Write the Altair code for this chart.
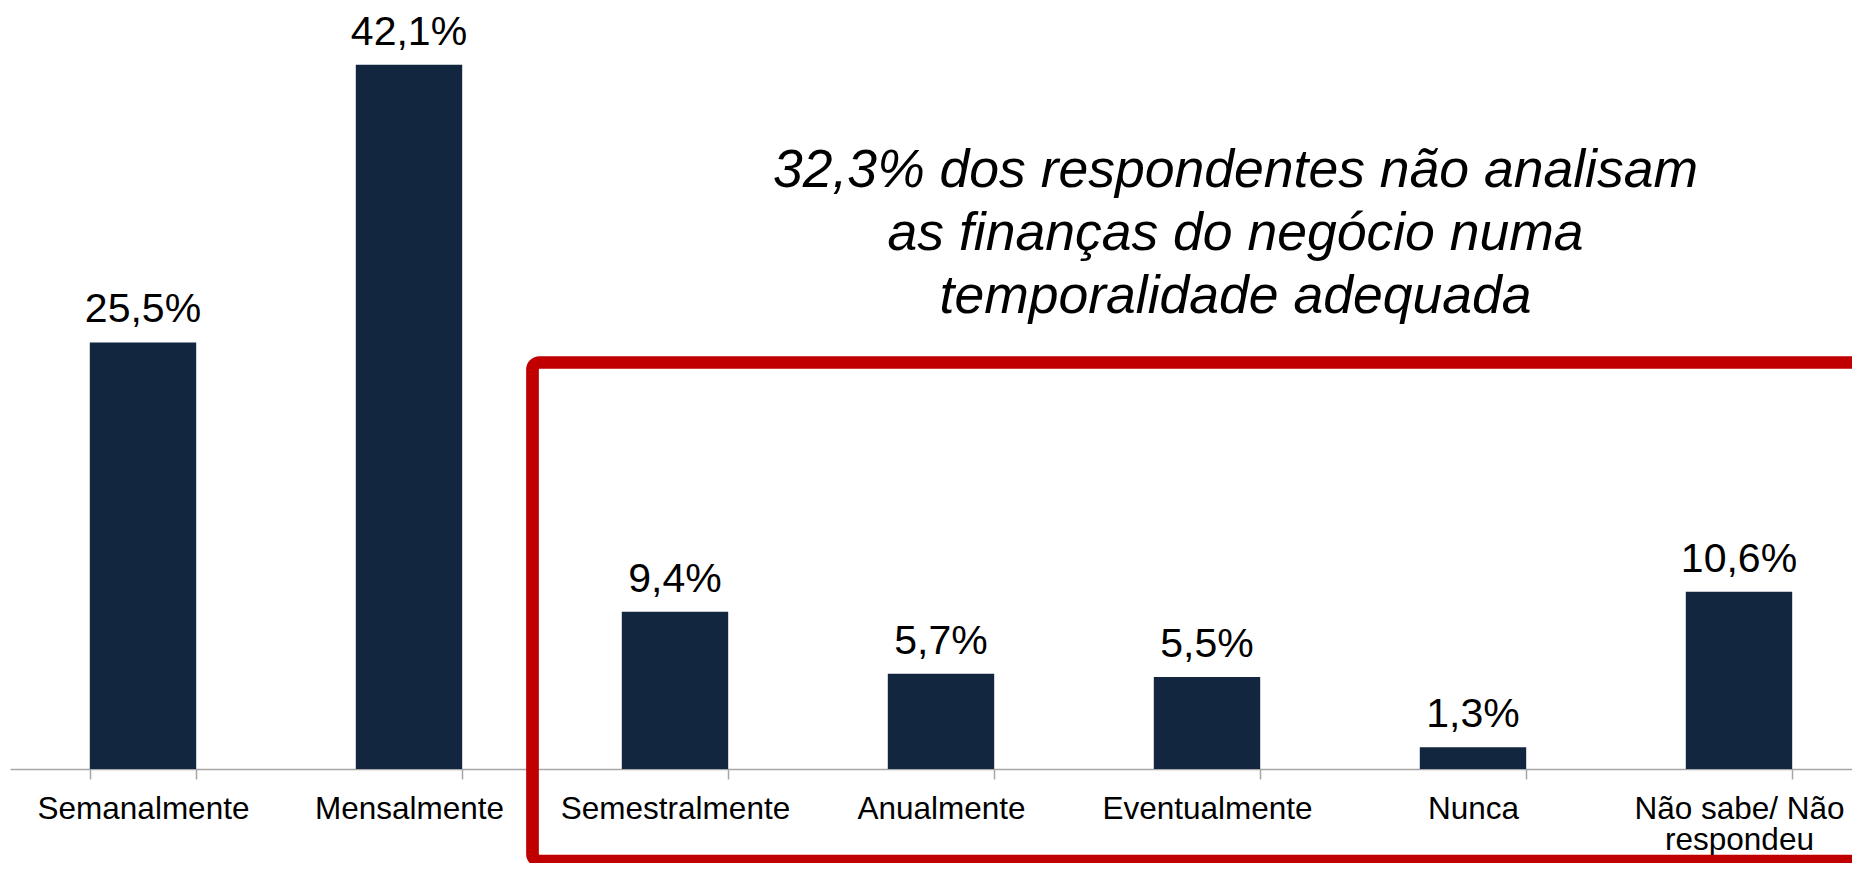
import altair as alt
import pandas as pd

categories = ["Semanalmente", "Mensalmente", "Semestralmente", "Anualmente",
              "Eventualmente", "Nunca", "Não sabe/ Não\nrespondeu"]
values = [25.5, 42.1, 9.4, 5.7, 5.5, 1.3, 10.6]
note_lines = ["32,3% dos respondentes não analisam",
              "as finanças do negócio numa",
              "temporalidade adequada"]

df = pd.DataFrame({"cat": categories, "val": values})
df["lbl"] = [f"{v:.1f}".replace(".", ",") + "%" for v in values]

FONT = "Liberation Sans"
BAR = "#132640"
RED = "#C00000"

x = alt.X("cat:N", sort=categories, title=None,
          scale=alt.Scale(paddingInner=0.6, paddingOuter=0.2624, align=0.5716,
                          round=False),
          axis=alt.Axis(labelAngle=0, labelFont=FONT, labelFontSize=31.5,
                        labelColor="#000000", labelBaseline="alphabetic",
                        labelPadding=39, tickSize=10, tickBand="extent",
                        tickColor="#A6A6A6", domainColor="#A6A6A6",
                        domainWidth=1.5, tickWidth=1.5, labelLimit=0,
                        labelLineHeight=31, grid=False,
                        labelExpr="split(datum.label, '\\n')"))
y = alt.Y("val:Q", scale=alt.Scale(domain=[0, 45.13]), axis=None)

base = alt.Chart(df)
bars = base.mark_bar(color=BAR).encode(x=x, y=y)
labels = base.mark_text(font=FONT, fontSize=41, baseline="alphabetic",
                        dy=-20, color="#000000").encode(x=x, y=y, text="lbl:N")

one = alt.Chart(pd.DataFrame({"k": [0]}))
box = one.mark_rect(fill="transparent", stroke=RED, strokeWidth=12.7,
                    cornerRadius=7).encode(
    x=alt.value(522.5), x2=alt.value(1960),
    y=alt.value(348.5), y2=alt.value(847))
note = one.mark_text(text=note_lines, font=FONT, fontSize=53.5, fontStyle="italic",
                     align="center", baseline="alphabetic", lineHeight=63,
                     color="#000000").encode(x=alt.value(1225.5), y=alt.value(173))

chart = alt.layer(bars, labels, box, note).properties(
    width=1842, height=755,
    autosize=alt.AutoSizeParams(type="none"),
    padding={"left": 2, "top": 6, "right": 0, "bottom": 94},
).configure_view(stroke=None)

chart.save("out.html", embed_options={"renderer": "svg", "actions": False})
